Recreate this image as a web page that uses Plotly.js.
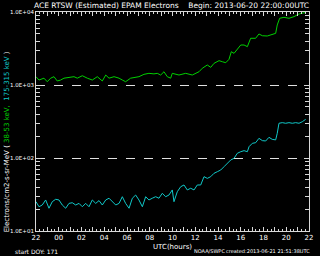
<!DOCTYPE html>
<html><head><meta charset="utf-8">
<script src="https://cdn.plot.ly/plotly-3.0.1.min.js"></script>
<style>html,body{margin:0;padding:0;background:#000;}#chart{width:320px;height:256px;}</style>
</head><body><div id="chart"></div>
<script>
// hours since 2013-06-20 22:00 UTC
const greenHours = [0,0.26,0.70,0.99,1.29,1.58,1.87,2.17,2.46,2.75,3.05,3.34,3.63,4.07,4.51,4.95,5.39,5.83,6.13,6.42,6.86,7.30,7.59,7.88,8.32,8.62,9.05,9.49,9.93,10.37,10.66,10.96,11.25,11.54,11.84,11.98,12.57,13.16,13.74,14.33,14.62,15.06,15.36,15.65,16.09,16.38,16.68,16.97,17.17,17.41,17.70,18.0,18.29,18.58,18.87,19.31,19.60,19.90,20.33,20.77,21.07,21.21,21.42,21.80,22.24,22.68,23.12,23.56,23.70];
const green38_53 = [1300,1170,1240,1110,1240,1300,1135,1170,1240,1260,1300,1300,1240,1340,1240,1170,1300,1135,1370,1240,1300,1240,1170,1110,1240,1260,1300,1400,1445,1420,1445,1370,1520,1300,1240,1445,1370,1445,1370,1520,1695,1880,1745,1980,2155,2085,2020,2250,2860,2715,3085,3530,3530,3350,4365,4365,5000,4730,4690,5000,5100,6640,8200,8450,8200,8630,9390,9780,9780];
const cyanHours = [0,0.26,0.55,0.85,1.14,1.43,1.73,2.02,2.31,2.61,2.90,3.19,3.49,3.78,4.07,4.37,4.66,4.95,5.25,5.54,5.83,6.13,6.42,6.71,7.01,7.30,7.59,7.88,8.18,8.47,8.76,9.05,9.35,9.64,9.93,10.22,10.52,10.81,11.10,11.40,11.69,11.98,12.13,12.42,12.72,13.01,13.30,13.60,13.89,14.18,14.48,14.77,15.06,15.36,15.65,15.94,16.24,16.53,16.82,17.12,17.41,17.70,18.0,18.29,18.58,18.73,19.02,19.31,19.60,19.90,20.19,20.48,20.77,21.07,21.21,21.36,21.65,21.95,22.24,22.53,22.83,23.12,23.41,23.71];
const cyan175_315 = [25.2,21.5,22.7,26.6,20.5,25.2,27.2,26.6,22.7,20.5,23.9,24.4,22.7,23.9,21.5,23.9,21.5,26.6,23.9,26.1,22.7,26.6,28.1,25.2,22.7,23.9,29.5,23.9,20.5,28.1,31.1,26.6,21.5,29.5,26.6,28.1,29.5,28.1,32.8,29.5,31.1,36.5,25.2,34.5,40.4,42.7,36.5,38.5,36.5,42.7,42.7,55.5,52.6,55.5,61.7,64.9,68.5,76,84.5,94,99,116,122,126,122,143,159,162,186,173,171,192,180,177,218,299,305,299,305,299,305,299,314,339];
const xTickVals = [0,2,4,6,8,10,12,14,16,18,20,22,24];
const xTickText = ['22','00','02','04','06','08','10','12','14','16','18','20','22'];
const yTickVals = [10,100,1000,10000];
const yTickText = ['1.0E+01','1.0E+02','1.0E+03','1.0E+04'];

const hourTicks = [], hourText = [];
for (let h = 0; h <= 24; h++) { hourTicks.push(h); const i = xTickVals.indexOf(h); hourText.push(i >= 0 ? xTickText[i] : ''); }
const yMinor = [];
[10,100,1000].forEach(d => { for (let k = 2; k <= 9; k++) yMinor.push(d*k); });

const axCol = '#d8d8d8';
const traces = [
  {x: greenHours, y: green38_53, type:'scatter', mode:'lines', line:{color:'#00d000', width:1}, hoverinfo:'skip'},
  {x: cyanHours, y: cyan175_315, type:'scatter', mode:'lines', line:{color:'#10c8c8', width:1}, hoverinfo:'skip'}
];
const layout = {
  width:320, height:256, paper_bgcolor:'#000', plot_bgcolor:'#000', showlegend:false,
  margin:{l:36, r:11, t:12, b:25},
  xaxis:{range:[0,24], tickvals:hourTicks, ticktext:hourText, ticks:'inside', ticklen:4, tickcolor:axCol,
    showline:true, linecolor:axCol, linewidth:1, mirror:'allticks', showgrid:false, zeroline:false,
    tickfont:{family:'DejaVu Sans', size:7, color:'#fff'},
    minor:{tick0:0, dtick:1/3, ticks:'inside', ticklen:2, tickcolor:axCol, showgrid:false}},
  yaxis:{type:'log', range:[1,4], tickvals:yTickVals, ticktext:yTickText, ticks:'inside', ticklen:5, tickcolor:axCol,
    showline:true, linecolor:axCol, linewidth:1, mirror:'allticks', showgrid:true, gridcolor:'#e0e0e0', griddash:'dash', gridwidth:1, zeroline:false,
    tickfont:{family:'DejaVu Sans', size:5.5, color:'#fff'},
    minor:{tickvals:yMinor, ticks:'inside', ticklen:4, tickcolor:axCol, showgrid:false}},
  annotations:[
    {text:'ACE RTSW (Estimated) EPAM Electrons &nbsp;&nbsp; Begin: 2013-06-20 22:00:00UTC', xref:'paper', yref:'paper', x:0.496, y:1, yshift:7, xanchor:'center', yanchor:'middle', showarrow:false, font:{family:'DejaVu Sans', size:7.5, color:'#fff'}},
    {text:'Electrons/cm2-s-sr-MeV ( <span style="color:#00d000">38-53 keV,</span> &nbsp;<span style="color:#10c8c8">175-315 keV</span> )', xref:'paper', yref:'paper', x:-0.106, y:0.405, xanchor:'center', yanchor:'middle', textangle:-90, showarrow:false, font:{family:'DejaVu Sans', size:7, color:'#fff'}},
    {text:'UTC(hours)', xref:'paper', yref:'paper', x:0.5, y:0, yshift:-16, xanchor:'center', yanchor:'middle', showarrow:false, font:{family:'DejaVu Sans', size:7, color:'#fff'}},
    {text:'start DOY: 171', xref:'paper', yref:'paper', x:-0.084, y:0, yshift:-20, xanchor:'left', yanchor:'middle', showarrow:false, font:{family:'DejaVu Sans', size:6, color:'#fff'}},
    {text:'NOAA/SWPC', xref:'paper', yref:'paper', x:0.70, y:0, yshift:-20, xanchor:'right', yanchor:'middle', showarrow:false, font:{family:'DejaVu Sans', size:5, color:'#fff'}},
    {text:'created:2013-06-21 21:51:38UTC', xref:'paper', yref:'paper', x:1.011, y:0, yshift:-20, xanchor:'right', yanchor:'middle', showarrow:false, font:{family:'DejaVu Sans', size:5, color:'#fff'}}
  ]
};
Plotly.newPlot('chart', traces, layout, {staticPlot:true, displayModeBar:false});
</script></body></html>
